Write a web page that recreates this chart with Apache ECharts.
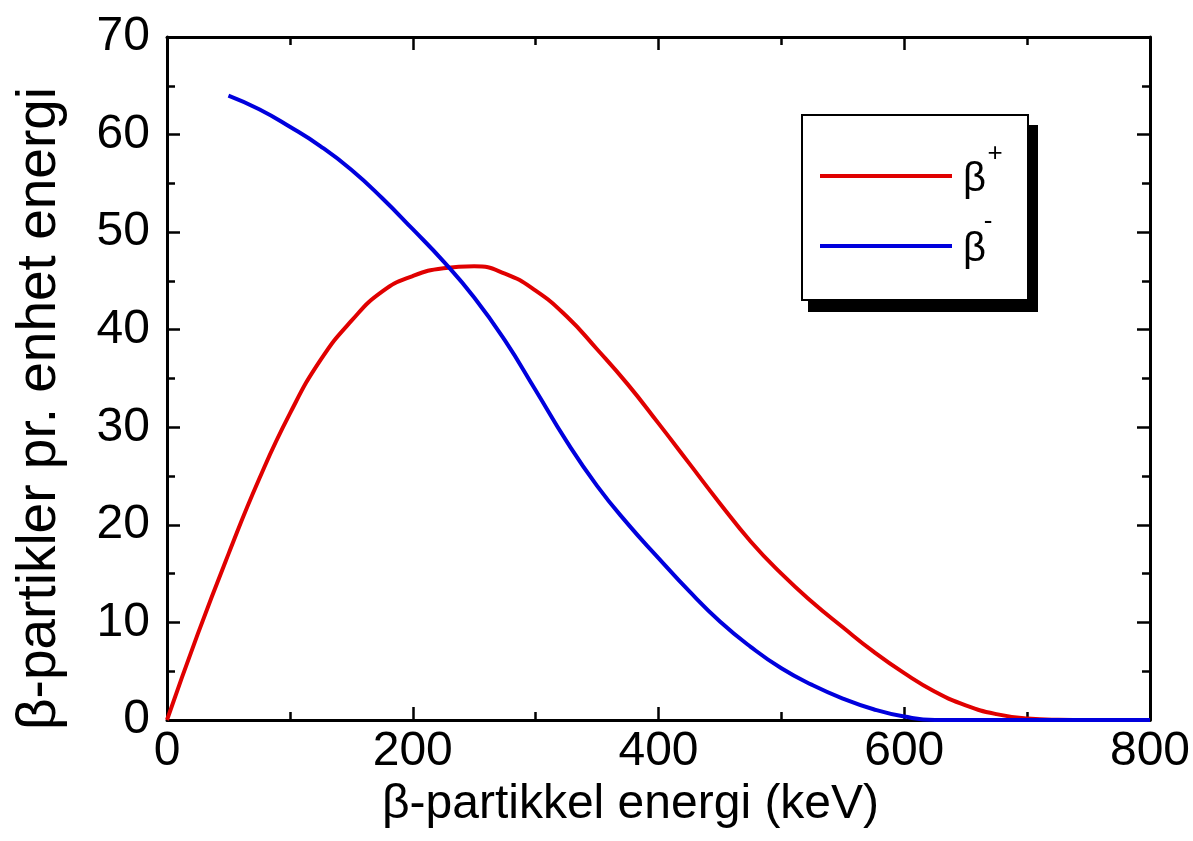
<!DOCTYPE html>
<html>
<head>
<meta charset="utf-8">
<script src="https://cdn.jsdelivr.net/npm/echarts@6/dist/echarts.min.js"></script>
<style>
html,body{margin:0;padding:0;background:#fff;}
#chart{width:1193px;height:841px;}
</style>
</head>
<body>
<div id="chart"></div>
<script>
// β+ spectrum (energy keV, particles per unit energy)
var xPlus = [0, 25, 50, 75, 100, 125, 150, 175, 200, 225, 250, 275, 300, 325, 350, 375, 400, 425, 450, 475, 500, 525, 550, 575, 600, 625, 650, 675, 700, 725, 750, 800];
var yPlus = [0, 8.8, 17.0, 24.7, 31.4, 36.9, 40.9, 43.9, 45.5, 46.3, 46.5, 45.75, 44.0, 41.4, 38.0, 34.4, 30.4, 26.3, 22.2, 18.3, 15.0, 12.1, 9.5, 7.0, 4.8, 2.9, 1.5, 0.6, 0.15, 0.02, 0, 0];
// β- spectrum
var xMinus = [50, 75, 100, 125, 150, 175, 200, 225, 250, 275, 300, 325, 350, 375, 400, 425, 450, 475, 500, 525, 550, 575, 600, 625, 650, 700, 800];
var yMinus = [64.0, 62.6, 60.8, 58.8, 56.4, 53.5, 50.3, 47.0, 43.3, 38.9, 33.8, 28.6, 24.0, 20.1, 16.6, 13.2, 10.1, 7.5, 5.3, 3.6, 2.2, 1.1, 0.35, 0, 0, 0, 0];

var seriesNames = ['β+', 'β-'];
var legendBase = 'β';
var legendSup = ['+', '-'];
var xTickLabels = ['0', '200', '400', '600', '800'];
var yTickLabels = ['0', '10', '20', '30', '40', '50', '60', '70'];
var xName = 'β-partikkel energi (keV)';
var yName = 'β-partikler pr. enhet energi';

function pairs(xs, ys) { return xs.map(function (x, i) { return [x, ys[i]]; }); }

var FONT = '"Liberation Sans", Arial, sans-serif';
var chart = echarts.init(document.getElementById('chart'), null, {renderer: 'canvas'});

function axisBase(show) {
  return {
    type: 'value',
    axisLine: {show: true, onZero: false, lineStyle: {color: '#000', width: 3}},
    axisTick: {show: true, inside: true, length: 13, lineStyle: {color: '#000', width: 2.5}},
    minorTick: {show: true, splitNumber: 2, length: 8, lineStyle: {color: '#000', width: 2.5}},
    splitLine: {show: false},
    axisLabel: {show: show}
  };
}

var xMain = axisBase(true);
Object.assign(xMain, {
  min: 0, max: 800, interval: 200, position: 'bottom',
  axisLabel: {show: true, fontSize: 48, fontFamily: FONT, color: '#000', margin: 8,
    formatter: function (v) { return xTickLabels[Math.round(v / 200)]; }},
  name: xName, nameLocation: 'middle', nameGap: 56,
  nameTextStyle: {fontSize: 48, fontFamily: FONT, color: '#000', padding: [0, 56, 0, 0]}
});
var xTop = axisBase(false);
Object.assign(xTop, {min: 0, max: 800, interval: 200, position: 'top'});

var yMain = axisBase(true);
Object.assign(yMain, {
  min: 0, max: 70, interval: 10, position: 'left',
  axisLabel: {show: true, fontSize: 48, fontFamily: FONT, color: '#000', margin: 17, padding: [0, 0, 8, 0],
    formatter: function (v) { return yTickLabels[Math.round(v / 10)]; }},
  name: yName, nameLocation: 'middle', nameGap: 100, nameRotate: 90,
  nameTextStyle: {fontSize: 55, fontFamily: FONT, color: '#000', padding: [0, 60, 0, 0]}
});
var yRight = axisBase(false);
Object.assign(yRight, {min: 0, max: 70, interval: 10, position: 'right'});

// legend key: a 132x4 line placed slightly above the centre of a 138x70 box
var legendIcon = 'path://M0,0 M138,70 M0,29 L132,29 L132,33 L0,33 Z';

chart.setOption({
  animation: false,
  backgroundColor: '#fff',
  grid: {left: 167, right: 43, top: 37, bottom: 121, containLabel: false, outerBoundsMode: 'none'},
  xAxis: [xMain, xTop],
  yAxis: [yMain, yRight],
  graphic: [
    {type: 'rect', z: 3, silent: true, shape: {x: 808, y: 125, width: 230, height: 187}, style: {fill: '#000'}},
    {type: 'text', z: 10, silent: true, x: 995, y: 154,
     style: {text: legendSup[0], fontSize: 26, fontFamily: FONT, fill: '#000', align: 'center', verticalAlign: 'middle'}},
    {type: 'text', z: 10, silent: true, x: 988, y: 222,
     style: {text: legendSup[1], fontSize: 26, fontFamily: FONT, fill: '#000', align: 'center', verticalAlign: 'middle'}}
  ],
  legend: {
    orient: 'vertical', left: 802, top: 115, z: 4,
    padding: [30, 42, 15, 18],
    itemGap: 0, itemWidth: 138, itemHeight: 70, icon: legendIcon,
    backgroundColor: '#fff', borderColor: '#000', borderWidth: 2, borderRadius: 0,
    data: seriesNames,
    formatter: function () { return legendBase; },
    textStyle: {color: '#000', fontSize: 40, fontFamily: FONT}
  },
  series: [
    {name: seriesNames[0], type: 'line', data: pairs(xPlus, yPlus), showSymbol: false, smooth: 0.5,
     lineStyle: {color: '#e00000', width: 4}, itemStyle: {color: '#e00000'}},
    {name: seriesNames[1], type: 'line', data: pairs(xMinus, yMinus), showSymbol: false, smooth: 0.5,
     lineStyle: {color: '#0000dd', width: 4}, itemStyle: {color: '#0000dd'}}
  ]
});
</script>
</body>
</html>
